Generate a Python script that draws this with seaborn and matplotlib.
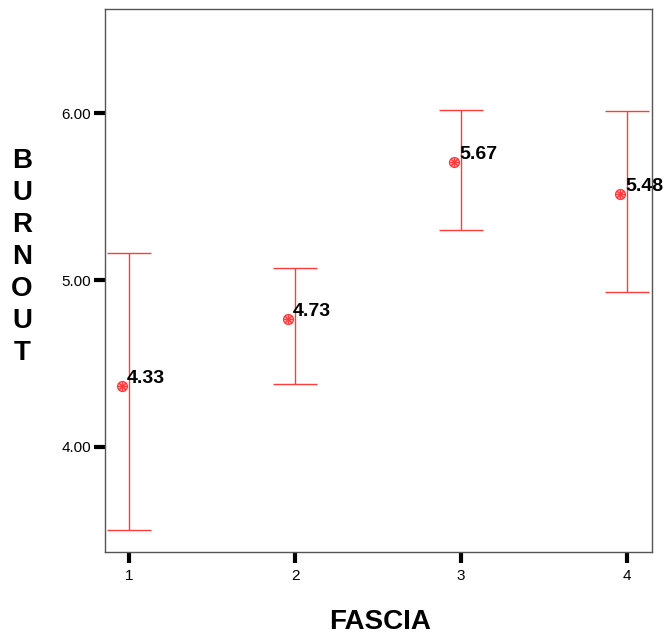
import numpy as np
import pandas as pd
import matplotlib
matplotlib.use("Agg")
import matplotlib.pyplot as plt
import matplotlib.transforms as mtransforms
import seaborn as sns

# =========================================
# DADOS
# =========================================

fascia = [1, 2, 3, 4]
media = [4.33, 4.73, 5.67, 5.48]
ic_inf = [3.50, 4.38, 5.30, 4.93]
ic_sup = [5.16, 5.07, 6.02, 6.01]
rotulos = ["4.33", "4.73", "5.67", "5.48"]

df = pd.DataFrame({"FASCIA": fascia, "BURNOUT": media})

# =========================================
# ESTILO
# =========================================

sns.set_style("white")
plt.rcParams["font.family"] = ["Liberation Sans", "DejaVu Sans"]
plt.rcParams["text.color"] = "black"

fig = plt.figure(figsize=(6.63, 6.35), dpi=100)
ax = fig.add_axes([0.1584, 0.1307, 0.825, 0.855])

vermelho = "#ff3b3b"

# barras de erro (IC 95%)
ax.errorbar(
    df["FASCIA"],
    df["BURNOUT"],
    yerr=[np.array(media) - np.array(ic_inf), np.array(ic_sup) - np.array(media)],
    fmt="none",
    ecolor=vermelho,
    elinewidth=1,
    capsize=16,
    capthick=1,
)

# marcadores da media (SPSS desenha levemente deslocado)
desloc = mtransforms.offset_copy(ax.transData, fig=fig, x=-7, y=6, units="dots")
sns.scatterplot(
    data=df, x="FASCIA", y="BURNOUT", ax=ax,
    marker="o", s=50, facecolor="#ffd0d0", edgecolor=vermelho, linewidth=1,
    transform=desloc, zorder=3,
)
sns.scatterplot(
    data=df, x="FASCIA", y="BURNOUT", ax=ax,
    marker=(8, 2, 0), s=40, color=vermelho, linewidth=0.8,
    transform=desloc, zorder=4,
)

# rotulos das medias
desloc_txt = mtransforms.offset_copy(ax.transData, fig=fig, x=-2, y=5, units="dots")
for xi, yi, r in zip(fascia, media, rotulos):
    ax.text(xi, yi, r, transform=desloc_txt, fontsize=14, fontweight="bold",
            ha="left", va="bottom", color="black")

# =========================================
# EIXOS
# =========================================

ax.set_xlim(0.855, 4.15)
ax.set_ylim(3.371, 6.623)
ax.set_xticks(fascia)
ax.set_xticklabels([str(f) for f in fascia])
ax.set_yticks([4, 5, 6])
ax.set_yticklabels(["4.00", "5.00", "6.00"])

ax.tick_params(axis="both", direction="out", length=8, width=3,
               color="black", labelsize=11, labelcolor="black")
ax.tick_params(axis="x", pad=4)
ax.tick_params(axis="y", pad=2)
ax.xaxis.set_ticks_position("bottom")
ax.yaxis.set_ticks_position("left")

for s in ax.spines.values():
    s.set_color("#555555")
    s.set_linewidth(1)

ax.set_xlabel("")
ax.set_ylabel("")

fig.text(380 / 663, 1 - 622 / 635, "FASCIA", fontsize=20, fontweight="bold",
         ha="center", va="center", color="black")
fig.text(22 / 663, 1 - 257 / 635, "\n".join("BURNOUT"), fontsize=20,
         fontweight="bold", ha="center", va="center", linespacing=1.3,
         color="black")

fig.savefig("out.png", dpi=100)
